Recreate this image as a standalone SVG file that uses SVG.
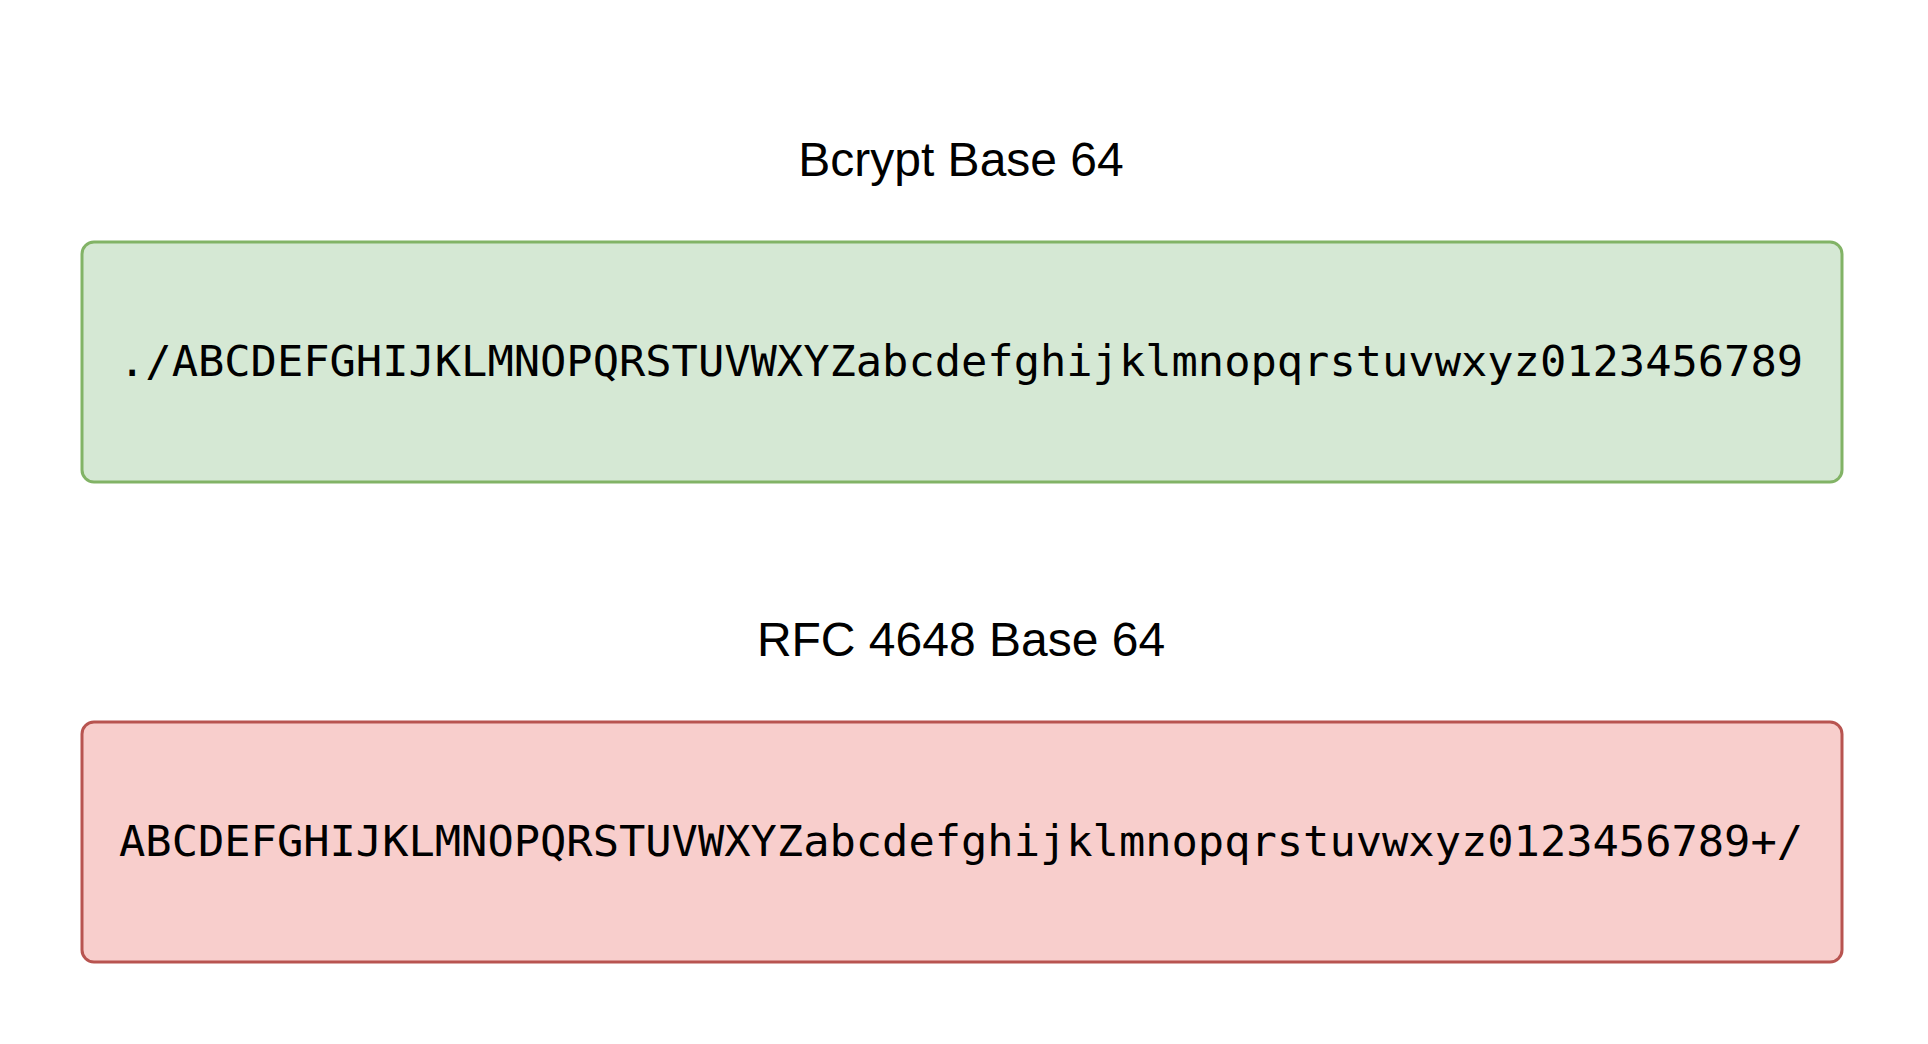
<svg xmlns="http://www.w3.org/2000/svg" width="1928" height="1044" viewBox="0 0 1928 1044">
<style>
.title{font-family:"Liberation Sans",Arial,sans-serif;font-size:48px;fill:#000;text-anchor:middle}
.mono{font-family:"DejaVu Sans Mono","Liberation Mono",monospace;font-size:42px;fill:#000;text-anchor:middle}
.green{fill:#d5e8d4;stroke:#82b366;stroke-width:3}
.red{fill:#f8cecc;stroke:#b85450;stroke-width:3}
</style>
<rect width="1928" height="1044" fill="#ffffff"/>
<g id="bcrypt-title"><text class="title" x="961" y="176">Bcrypt Base 64</text></g>
<g id="bcrypt-box">
<rect class="green" x="82" y="242" width="1760" height="240" rx="12" ry="12"/>
<text class="mono" x="961" y="376" textLength="1684" lengthAdjust="spacingAndGlyphs">./ABCDEFGHIJKLMNOPQRSTUVWXYZabcdefghijklmnopqrstuvwxyz0123456789</text>
</g>
<g id="rfc-title"><text class="title" x="961" y="656">RFC 4648 Base 64</text></g>
<g id="rfc-box">
<rect class="red" x="82" y="722" width="1760" height="240" rx="12" ry="12"/>
<text class="mono" x="961" y="856" textLength="1684" lengthAdjust="spacingAndGlyphs">ABCDEFGHIJKLMNOPQRSTUVWXYZabcdefghijklmnopqrstuvwxyz0123456789+/</text>
</g>
<g id="connectors"></g>
</svg>
